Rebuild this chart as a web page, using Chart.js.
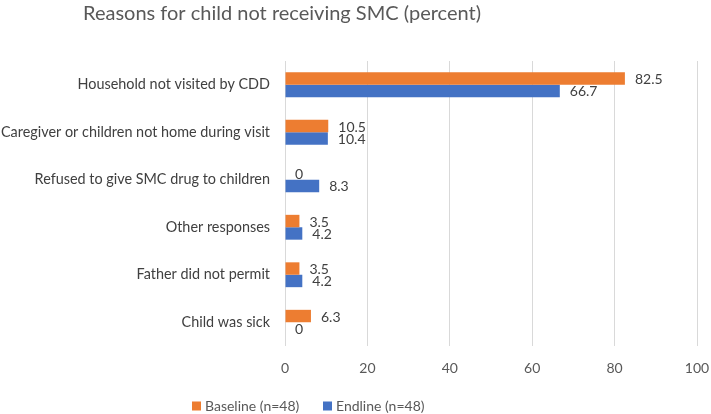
<!DOCTYPE html>
<html>
<head>
<meta charset="utf-8">
<script src="https://cdn.jsdelivr.net/npm/chart.js@4"></script>
<style>
  html, body { margin: 0; padding: 0; background: #fff; }
  #wrap { width: 711px; height: 414px; position: relative; }
</style>
</head>
<body>
<div id="wrap"><canvas id="chart"></canvas></div>
<script>
// Razões para a criança não receber SMC
const categorias = [
    'Household not visited by CDD',
    'Caregiver or children not home during visit',
    'Refused to give SMC drug to children',
    'Other responses',
    'Father did not permit',
    'Child was sick'
];
const baseline = [82.5, 10.5, 0, 3.5, 3.5, 6.3];
const endline = [66.7, 10.4, 8.3, 4.2, 4.2, 0];
const tituloTexto = 'Reasons for child not receiving SMC (percent)';
const FONTE = 'Lato, "Open Sans", sans-serif';

// título desenhado à esquerda, como no original
const pluginTitulo = {
    id: 'tituloEsquerda',
    afterDraw(chart) {
        const ctx = chart.ctx;
        ctx.save();
        ctx.font = '20px ' + FONTE;
        ctx.fillStyle = '#595959';
        ctx.textBaseline = 'middle';
        ctx.textAlign = 'left';
        ctx.fillText(tituloTexto, 83, 14);
        ctx.restore();
    }
};

// rótulos de valor à direita de cada barra
const pluginValores = {
    id: 'valores',
    afterDatasetsDraw(chart) {
        const ctx = chart.ctx;
        ctx.save();
        ctx.font = '14px ' + FONTE;
        ctx.fillStyle = '#404040';
        ctx.textAlign = 'left';
        ctx.textBaseline = 'middle';
        chart.data.datasets.forEach((ds, i) => {
            const meta = chart.getDatasetMeta(i);
            meta.data.forEach((bar, j) => {
                ctx.fillText(String(ds.data[j]), bar.x + 10, bar.y + 1);
            });
        });
        ctx.restore();
    }
};

// legenda embaixo, deslocada para a esquerda como no Excel
const pluginLegenda = {
    id: 'legendaManual',
    afterDraw(chart) {
        const ctx = chart.ctx;
        const posicoes = [192, 323];
        const y = 406;
        ctx.save();
        ctx.font = '14px ' + FONTE;
        ctx.textBaseline = 'middle';
        ctx.textAlign = 'left';
        chart.data.datasets.forEach((ds, i) => {
            ctx.fillStyle = ds.backgroundColor;
            ctx.fillRect(posicoes[i], y - 4.5, 9, 9);
            ctx.fillStyle = '#595959';
            ctx.fillText(ds.label, posicoes[i] + 13, y);
        });
        ctx.restore();
    }
};

const ctx = document.getElementById('chart').getContext('2d');
new Chart(ctx, {
    type: 'bar',
    data: {
        labels: categorias,
        datasets: [
            { label: 'Baseline (n=48)', data: baseline, backgroundColor: '#ed7d31', borderWidth: 0 },
            { label: 'Endline (n=48)', data: endline, backgroundColor: '#4472c4', borderWidth: 0 }
        ]
    },
    options: {
        indexAxis: 'y',
        responsive: true,
        maintainAspectRatio: false,
        animation: false,
        categoryPercentage: 0.523,
        barPercentage: 1,
        layout: { padding: { top: 61, right: 14, left: 0, bottom: 32 } },
        plugins: {
            title: { display: false },
            tooltip: { enabled: false },
            legend: { display: false }
        },
        scales: {
            x: {
                min: 0,
                max: 100,
                ticks: { stepSize: 20, color: '#595959', font: { family: FONTE, size: 14 }, padding: 14 },
                grid: { color: '#d9d9d9', drawTicks: false },
                border: { display: false },
                afterFit(scale) {
                    scale.height = 36;
                    scale.paddingLeft = 0;
                    scale.paddingRight = 0;
                }
            },
            y: {
                ticks: { color: '#404040', font: { family: FONTE, size: 14.4 }, padding: 15 },
                grid: { display: false, drawTicks: false },
                border: { display: false },
                afterFit(scale) { scale.width = 285; }
            }
        }
    },
    plugins: [pluginTitulo, pluginValores, pluginLegenda]
});
</script>
</body>
</html>
